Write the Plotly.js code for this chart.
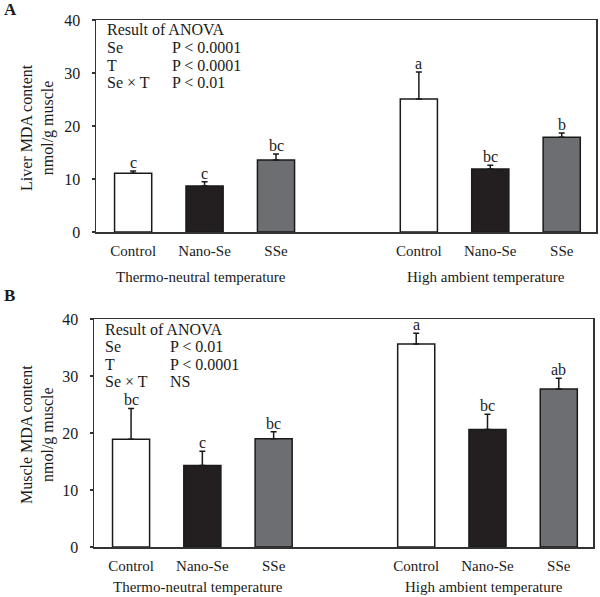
<!DOCTYPE html>
<html>
<head>
<meta charset="utf-8">
<script src="https://cdn.plot.ly/plotly-3.0.1.min.js"></script>
<style>html,body{margin:0;padding:0;background:#fff;}#chart{width:600px;height:597px;}</style>
</head>
<body>
<div id="chart"></div>
<script>
// ---- data ----
const treatments = ['Control', 'Nano-Se', 'SSe'];
const groups = ['Thermo-neutral temperature', 'High ambient temperature'];
const liverMean = [11.1, 8.7, 13.6, 25.1, 11.9, 17.9];
const liverSE = [0.4, 0.8, 1.1, 5.1, 0.7, 0.8];
const liverLetters = ['c', 'c', 'bc', 'a', 'bc', 'b'];
const muscleMean = [18.9, 14.3, 19.0, 35.6, 20.6, 27.7];
const muscleSE = [5.4, 2.5, 1.2, 1.9, 2.7, 1.9];
const muscleLetters = ['bc', 'c', 'bc', 'a', 'bc', 'ab'];
const anovaTerms = ['Se', 'T', 'Se \u00d7 T'];
const liverAnova = ['P < 0.0001', 'P < 0.0001', 'P < 0.01'];
const muscleAnova = ['P < 0.01', 'P < 0.0001', 'NS'];
const yTicks = [0, 10, 20, 30, 40];
const panelTitles = ['Liver MDA content<br>nmol/g muscle', 'Muscle MDA content<br>nmol/g muscle'];

// ---- styling / layout helpers ----
const FONT = 'Liberation Serif, Times New Roman, serif';
const treatColors = ['#ffffff', '#231f20', '#6d6e71'];
const W = 600, H = 597, MT = 20, MB = 50;
const PH = H - MT - MB;
const px = x => x / W;
const py = y => (H - MB - y) / PH;

// positions: treatment index within group, groups separated by one empty slot
const xs = [], ticktext = [], colors = [];
groups.forEach((g, gi) => treatments.forEach((t, ti) => {
  xs.push(gi * (treatments.length + 1) + ti);
  ticktext.push(t);
  colors.push(treatColors[ti]);
}));

function barTrace(means, ses, xa, ya) {
  return {
    type: 'bar', x: xs, y: means, xaxis: xa, yaxis: ya,
    width: 0.52,
    marker: {color: colors, line: {color: '#1a1a1a', width: 1.5}},
    error_y: {type: 'data', symmetric: false, array: ses, arrayminus: ses.map(() => 0),
              color: '#1a1a1a', thickness: 1.5, width: 3},
    hoverinfo: 'skip', showlegend: false
  };
}

const data = [
  barTrace(liverMean, liverSE, 'x', 'y'),
  barTrace(muscleMean, muscleSE, 'x2', 'y2')
];

const xCommon = {
  range: [-0.52, 6.48], tickmode: 'array', tickvals: xs, ticktext: ticktext,
  showline: true, linecolor: '#333', linewidth: 1.5, mirror: true,
  ticks: '', showgrid: false, zeroline: false, fixedrange: true,
  tickfont: {family: FONT, size: 15, color: '#1a1a1a'}, ticklabelstandoff: 4
};
const yCommon = {
  range: [0, 40], tickmode: 'array', tickvals: yTicks,
  showline: true, linecolor: '#333', linewidth: 1.5, mirror: true,
  ticks: 'outside', ticklen: 3, tickwidth: 1.5, tickcolor: '#333',
  showgrid: false, zeroline: false, fixedrange: true,
  tickfont: {family: FONT, size: 16, color: '#1a1a1a'}, ticklabelstandoff: 8
};

const annotations = [];
function addPanel(letters, means, ses, xa, ya, anova, top, bottom, leftPx, groupLabelY, title, panelLetter, panelY) {
  // significance letters
  letters.forEach((L, i) => annotations.push({
    xref: xa, yref: ya, x: xs[i], y: means[i] + ses[i], text: L,
    showarrow: false, yanchor: 'bottom', yshift: -2,
    font: {family: FONT, size: 16, color: '#1a1a1a'}
  }));
  // ANOVA box text
  const rowH = 17.6;
  annotations.push({xref: 'paper', yref: 'paper', x: px(leftPx + 9), y: py(top + 10),
    text: 'Result of ANOVA', showarrow: false, xanchor: 'left', yanchor: 'middle',
    font: {family: FONT, size: 16, color: '#1a1a1a'}});
  anovaTerms.forEach((term, i) => {
    const yy = py(top + 10 + rowH * (i + 1));
    annotations.push({xref: 'paper', yref: 'paper', x: px(leftPx + 9), y: yy, text: term,
      showarrow: false, xanchor: 'left', yanchor: 'middle',
      font: {family: FONT, size: 16, color: '#1a1a1a'}});
    annotations.push({xref: 'paper', yref: 'paper', x: px(leftPx + 74), y: yy, text: anova[i],
      showarrow: false, xanchor: 'left', yanchor: 'middle',
      font: {family: FONT, size: 16, color: '#1a1a1a'}});
  });
  // group labels
  groups.forEach((g, gi) => annotations.push({
    xref: xa, yref: 'paper', x: gi * (treatments.length + 1) + 1, y: py(groupLabelY),
    text: g, showarrow: false, yanchor: 'middle', xshift: -4,
    font: {family: FONT, size: 15, color: '#1a1a1a'}
  }));
  // y title
  annotations.push({xref: 'paper', yref: 'paper', x: px(37), y: py((top + bottom) / 2 + 2),
    text: title, textangle: -90, showarrow: false, xanchor: 'center', yanchor: 'middle',
    font: {family: FONT, size: 16, color: '#1a1a1a'}});
  // panel letter
  annotations.push({xref: 'paper', yref: 'paper', x: px(2), y: py(panelY),
    text: '<b>' + panelLetter + '</b>', showarrow: false, xanchor: 'left', yanchor: 'middle',
    font: {family: FONT, size: 17, color: '#1a1a1a'}});
}

addPanel(liverLetters, liverMean, liverSE, 'x', 'y', liverAnova, 20, 232, 96, 277, panelTitles[0], 'A', 9);
addPanel(muscleLetters, muscleMean, muscleSE, 'x2', 'y2', muscleAnova, 319, 547, 94, 587, panelTitles[1], 'B', 295);

const layout = {
  width: W, height: H,
  margin: {l: 0, r: 0, t: MT, b: MB, pad: 0},
  paper_bgcolor: '#fff', plot_bgcolor: '#fff',
  bargap: 0,
  xaxis: Object.assign({}, xCommon, {domain: [px(96), px(596)], anchor: 'y'}),
  yaxis: Object.assign({}, yCommon, {domain: [py(232), py(20)], anchor: 'x'}),
  xaxis2: Object.assign({}, xCommon, {domain: [px(94), px(593)], anchor: 'y2'}),
  yaxis2: Object.assign({}, yCommon, {domain: [py(547), py(319)], anchor: 'x2'}),
  annotations: annotations,
  font: {family: FONT, color: '#1a1a1a'}
};

Plotly.newPlot('chart', data, layout, {staticPlot: true, displayModeBar: false});
</script>
</body>
</html>
